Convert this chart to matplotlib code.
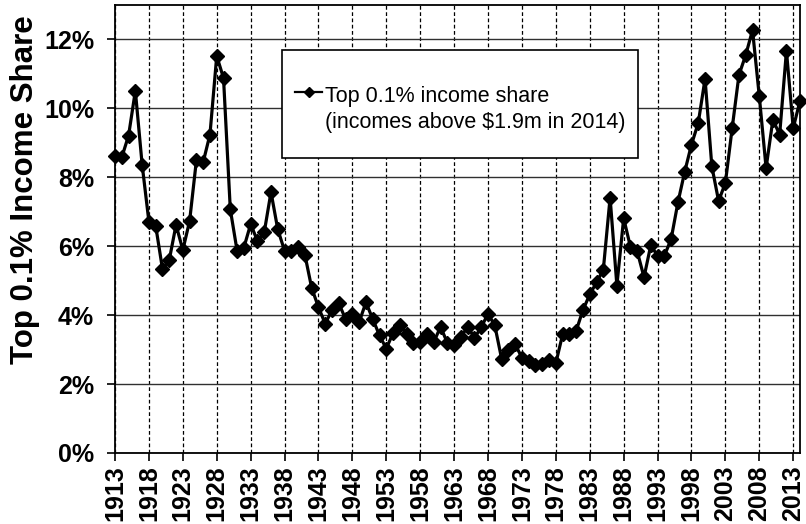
import numpy as np
import matplotlib.pyplot as plt
from matplotlib.patches import Rectangle
from matplotlib.lines import Line2D

plt.rcParams['font.family']=['Liberation Sans','DejaVu Sans']

years=np.arange(1913,2015)
share=[8.61,8.58,9.21,10.51,8.37,6.71,6.59,5.34,5.60,6.62,
       5.89,6.73,8.49,8.44,9.24,11.52,10.88,7.07,5.87,5.96,
       6.64,6.16,6.40,7.57,6.49,5.87,5.85,5.98,5.75,4.79,
       4.23,3.75,4.15,4.34,3.89,4.04,3.80,4.37,3.89,3.41,
       3.03,3.48,3.70,3.46,3.19,3.22,3.46,3.22,3.66,3.20,
       3.12,3.36,3.67,3.34,3.65,4.04,3.70,2.74,2.98,3.15,
       2.77,2.67,2.54,2.59,2.71,2.61,3.44,3.46,3.55,4.15,
       4.60,4.95,5.32,7.41,4.86,6.81,5.98,5.85,5.10,6.03,
       5.72,5.72,6.21,7.27,8.16,8.95,9.58,10.86,8.32,7.31,
       7.84,9.43,10.97,11.55,12.27,10.35,8.27,9.67,9.24,11.67,
       9.43,10.22]

xticks=np.arange(1913,2014,5)
yticks=[0,2,4,6,8,10,12]
ylabel='Top 0.1% Income Share'
legend_lines=['Top 0.1% income share','(incomes above $1.9m in 2014)']

fig=plt.figure(figsize=(8.06,5.24),dpi=100)
ax=fig.add_axes([115/806,71/524,685/806,448/524])

ax.plot(years,share,color='black',lw=2.3,marker='D',ms=7,clip_on=False,zorder=4)

ax.set_xlim(1913,2014)
ax.set_ylim(0,13)
ax.set_xticks(xticks)
ax.set_xticklabels([str(y) for y in xticks],rotation=90,fontsize=18,fontweight='bold')
ax.set_yticks(yticks)
ax.set_yticklabels(['%d%%'%v for v in yticks],fontsize=18,fontweight='bold')
ax.tick_params(axis='x',direction='out',length=6,width=1.2,pad=3)
ax.tick_params(axis='y',direction='out',length=6,width=1.2,pad=9)

ax.yaxis.grid(True,color='#303030',lw=1.0,ls='-')
ax.xaxis.grid(True,color='black',lw=0.9,ls=(0,(3,2)))
ax.set_axisbelow(True)
for s in ax.spines.values():
    s.set_linewidth(1.3)
    s.set_color('black')

ax.set_ylabel(ylabel,fontsize=22.5,fontweight='bold')
ax.yaxis.set_label_coords(-0.11,0.587)

# legend box
ax.add_patch(Rectangle((0.2438,0.6585),0.5197,0.2411,transform=ax.transAxes,
                       fc='white',ec='black',lw=1.2,zorder=5))
ax.add_line(Line2D([0.2628,0.3022],[0.8058,0.8058],transform=ax.transAxes,
                   color='black',lw=1.6,zorder=6))
ax.add_line(Line2D([0.2825],[0.8058],transform=ax.transAxes,color='black',
                   marker='D',ms=5,zorder=6))
ax.text(0.3066,0.7835,legend_lines[0],transform=ax.transAxes,fontsize=15.5,
        va='baseline',ha='left',zorder=7)
ax.text(0.3066,0.7254,legend_lines[1],transform=ax.transAxes,fontsize=15.5,
        va='baseline',ha='left',zorder=7)

fig.savefig('out.png',dpi=100)
